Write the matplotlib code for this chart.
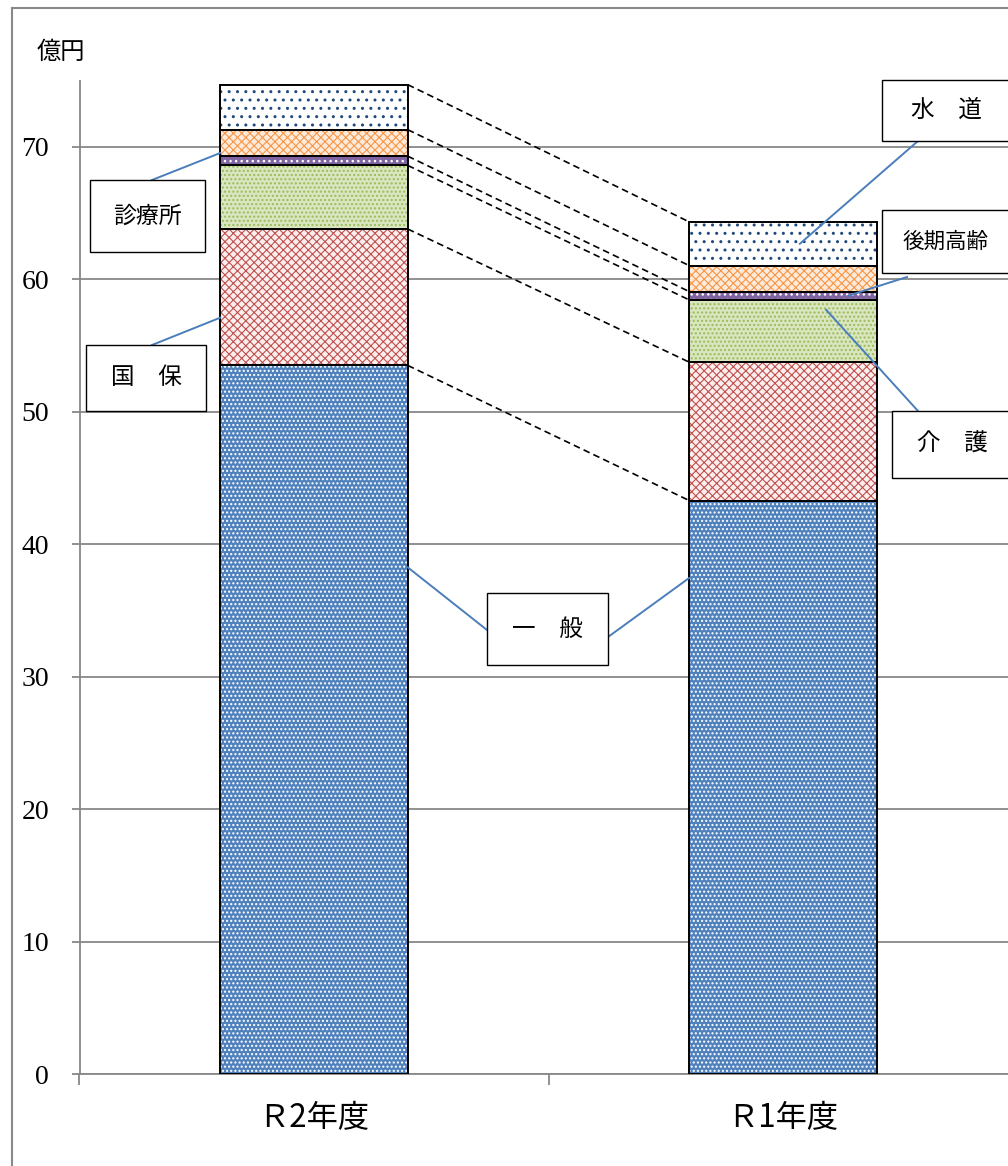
import numpy as np
import matplotlib
matplotlib.use("Agg")
import matplotlib.pyplot as plt
from matplotlib.lines import Line2D
from matplotlib.patches import Rectangle

# ---- data ----
categories = ['Ｒ2年度', 'Ｒ1年度']
series_names = ['一般', '国保', '介護', '後期高齢', '診療所', '水道']
ippan = [53.5, 43.3]
kokuho = [10.3, 10.45]
kaigo = [4.8, 4.7]
kouki = [0.7, 0.63]
shinryo = [2.0, 1.96]
suido = [3.4, 3.3]
y_ticks = [0, 10, 20, 30, 40, 50, 60, 70]
unit_label = '億円'

series_values = [ippan, kokuho, kaigo, kouki, shinryo, suido]

# style: (facecolor, hatch, hatchcolor, hatch linewidth)
styles = [
    ('#4f81bd', '....', '#ffffff', 1.0),
    ('#fbeeee', 'xxxx', '#c0504d', 0.8),
    ('#d9e6bf', '....', '#9bbb59', 1.0),
    ('#8064a2', '...', '#ffffff', 1.0),
    ('#fdeadb', 'xxxx', '#f79646', 0.8),
    ('#ffffff', '..', '#1f497d', 1.0),
]

JP = ['Noto Sans CJK JP', 'DejaVu Sans']
SERIF = ['Liberation Serif', 'DejaVu Serif']

W, H = 1008, 1166
fig = plt.figure(figsize=(W / 100, H / 100), dpi=100)

def fx(px):
    return px / W

def fy(py):
    return 1 - py / H

ax_left, ax_right, ax_top, ax_bottom = 79.5, 1017.5, 80.7, 1074
ax = fig.add_axes([fx(ax_left), fy(ax_bottom), (ax_right - ax_left) / W, (ax_bottom - ax_top) / H])

x = np.arange(len(categories))
bw = 0.4
bottom = np.zeros(len(categories))
tops = []
bottoms = []
for vals, (fc, hatch, hc, hlw) in zip(series_values, styles):
    vals = np.array(vals)
    with plt.rc_context({'hatch.linewidth': hlw}):
        ax.bar(x, vals, bw, bottom=bottom, facecolor=fc, hatch=hatch, edgecolor=hc, linewidth=0, zorder=3)
    ax.bar(x, vals, bw, bottom=bottom, fill=False, edgecolor='black', linewidth=1.4, zorder=4)
    bottoms.append(bottom.copy())
    bottom = bottom + vals
    tops.append(bottom.copy())

# series (connector) lines
for t in tops:
    ax.plot([x[0] + bw / 2, x[1] - bw / 2], [t[0], t[1]], color='black', linestyle=(0, (4, 2.5)),
            linewidth=1.2, zorder=5)

ax.set_xlim(-0.5, 1.5)
ax.set_ylim(0, 75)
ax.set_yticks(y_ticks)
ax.set_yticklabels([str(v) for v in y_ticks], fontfamily=SERIF, fontsize=20)
ax.set_xticks([-0.5, 0.5, 1.5])
ax.set_xticklabels([])
ax.tick_params(axis='y', length=6, width=1.3, color='#888888', pad=16)
ax.tick_params(axis='x', length=8, width=1.3, color='#888888')
ax.grid(axis='y', color='#888888', linewidth=1.3, zorder=0)
ax.set_axisbelow(True)
for s in ['top', 'right']:
    ax.spines[s].set_visible(False)
for s in ['left', 'bottom']:
    ax.spines[s].set_color('#888888')
    ax.spines[s].set_linewidth(1.3)

for i, c in enumerate(categories):
    ax.text(x[i], -0.044, c, transform=ax.get_xaxis_transform(), ha='center', va='center',
            fontsize=22.5, family=JP)

fig.text(fx(37), fy(52), unit_label, ha='left', va='center', fontsize=17.5, family=JP)

# outer border
fig.add_artist(Line2D([fx(12), fx(12)], [fy(8), fy(1170)], color='#898989', linewidth=1.5))
fig.add_artist(Line2D([fx(12), fx(1020)], [fy(8), fy(8)], color='#898989', linewidth=1.5))

# label boxes (pixel layout)
boxes = {
    '診療所': (90, 180, 205, 252, '診療所', 16.5),
    '国保': (86, 345, 206, 411, '国\u3000保', 17),
    '一般': (487, 593, 608, 665, '一\u3000般', 17),
    '水道': (882, 80, 1010, 141, '水\u3000道', 17),
    '後期高齢': (882, 210, 1010, 273, '後期高齢', 15.5),
    '介護': (892, 411, 1012, 478, '介\u3000護', 17),
}
for key, (l, t, r, b, txt, fs) in boxes.items():
    fig.add_artist(Rectangle((fx(l), fy(b)), (r - l) / W, (b - t) / H, facecolor='white',
                             edgecolor='black', linewidth=1.0, transform=fig.transFigure, zorder=6))
    fig.text(fx((l + r) / 2), fy((t + b) / 2), txt, ha='center', va='center', fontsize=fs,
             family=JP, zorder=7)

# leader lines: (box anchor px) -> (bar data point)
def seg_point(series_idx, cat, frac):
    return bottoms[series_idx][cat] + frac * series_values[series_idx][cat]

leaders = [
    ((152, 180), (x[0] - bw / 2, seg_point(4, 0, 0.12))),
    ((152, 345), (x[0] - bw / 2, seg_point(1, 0, 0.35))),
    ((487, 630), (x[0] + bw / 2, seg_point(0, 0, 0.715))),
    ((608, 637), (x[1] - bw / 2, seg_point(0, 1, 0.865))),
    ((918, 141), (x[1] + 0.036, seg_point(5, 1, 0.5))),
    ((907, 277), (x[1] + 0.139, seg_point(3, 1, 0.5))),
    ((918, 411), (x[1] + 0.092, seg_point(2, 1, 0.84))),
]
color_lead = '#4a7ebb'
for (px, py), (dx, dy) in leaders:
    disp = ax.transData.transform((dx, dy))
    fpt = fig.transFigure.inverted().transform(disp)
    fig.add_artist(Line2D([fx(px), fpt[0]], [fy(py), fpt[1]], color=color_lead, linewidth=1.4, zorder=5.5))

fig.savefig('out.png', dpi=100)
